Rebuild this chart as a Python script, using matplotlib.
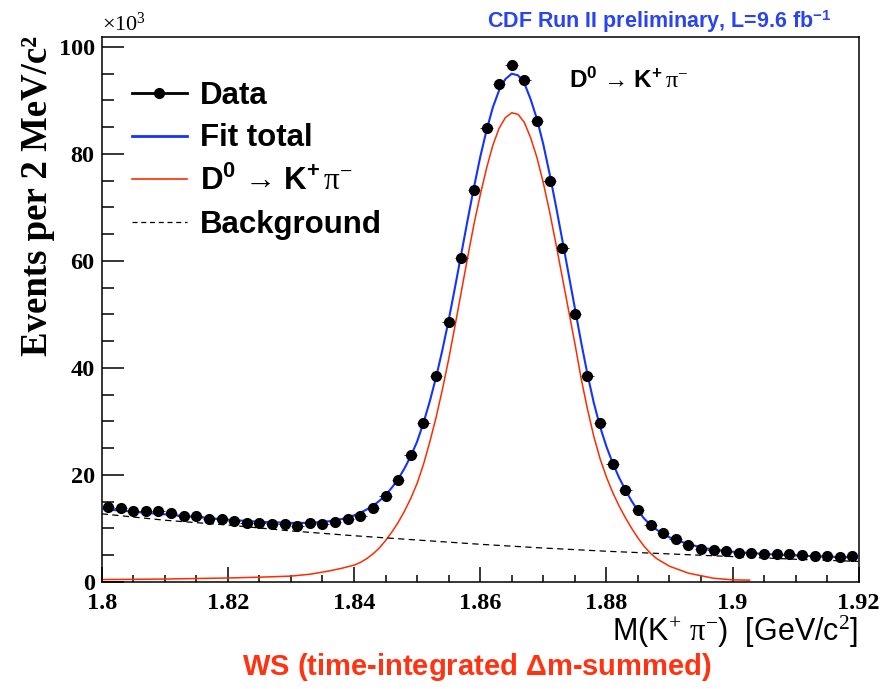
import matplotlib
matplotlib.use("Agg")
import matplotlib.pyplot as plt
from matplotlib.lines import Line2D
from matplotlib.ticker import MultipleLocator, FuncFormatter

plt.rcParams["font.family"] = ["Liberation Sans", "DejaVu Sans"]
plt.rcParams["mathtext.fontset"] = "custom"
plt.rcParams["mathtext.rm"] = "Liberation Serif"
plt.rcParams["mathtext.bf"] = "Liberation Sans:bold"
plt.rcParams["mathtext.sf"] = "Liberation Sans"
plt.rcParams["mathtext.it"] = "Liberation Serif:italic"

# data: bin centres [GeV/c^2], counts in units of 10^3 per 2 MeV/c^2
mass = [1.801, 1.803, 1.805, 1.807, 1.809, 1.811, 1.813, 1.815, 1.817, 1.819,
        1.821, 1.823, 1.825, 1.827, 1.829, 1.831, 1.833, 1.835, 1.837, 1.839,
        1.841, 1.843, 1.845, 1.847, 1.849, 1.851, 1.853, 1.855, 1.857, 1.859,
        1.861, 1.863, 1.865, 1.867, 1.869, 1.871, 1.873, 1.875, 1.877, 1.879,
        1.881, 1.883, 1.885, 1.887, 1.889, 1.891, 1.893, 1.895, 1.897, 1.899,
        1.901, 1.903, 1.905, 1.907, 1.909, 1.911, 1.913, 1.915, 1.917, 1.919]
events = [14.0, 13.8, 13.2, 13.3, 13.2, 12.8, 12.3, 12.2, 11.7, 11.7,
          11.4, 11.0, 11.0, 10.8, 10.8, 10.5, 10.9, 10.8, 11.2, 11.7,
          12.3, 13.8, 16.1, 19.1, 23.7, 29.7, 38.5, 48.5, 60.6, 73.2,
          84.9, 93.0, 96.6, 93.8, 86.1, 75.0, 62.5, 50.0, 38.4, 29.6,
          22.1, 17.1, 13.4, 10.7, 9.2, 7.9, 6.9, 6.1, 5.9, 5.7,
          5.4, 5.3, 5.1, 5.2, 5.1, 5.0, 4.9, 4.8, 4.7, 4.8]
bin_half = 0.001

# fit total (blue)
tot_x = [1.800, 1.805, 1.810, 1.815, 1.820, 1.825, 1.830, 1.833, 1.836, 1.838,
         1.840, 1.841, 1.842, 1.843, 1.844, 1.845, 1.846, 1.847, 1.848, 1.849,
         1.850, 1.851, 1.852, 1.853, 1.854, 1.855, 1.856, 1.857, 1.858, 1.859,
         1.860, 1.861, 1.862, 1.863, 1.864, 1.865, 1.866, 1.867, 1.868, 1.869,
         1.870, 1.871, 1.872, 1.873, 1.874, 1.875, 1.876, 1.877, 1.878, 1.879,
         1.880, 1.881, 1.882, 1.883, 1.884, 1.885, 1.886, 1.887, 1.888, 1.890,
         1.893, 1.896, 1.900, 1.905, 1.910, 1.915, 1.920]
tot_y = [13.6, 13.1, 12.6, 12.1, 11.6, 11.2, 11.0, 11.0, 11.3, 11.7,
         12.4, 12.9, 13.5, 14.2, 15.1, 16.2, 17.6, 19.2, 21.2, 23.5,
         26.2, 29.7, 33.7, 38.2, 43.3, 48.9, 55.0, 61.3, 67.6, 73.7,
         79.4, 84.4, 88.7, 91.9, 94.0, 95.0, 94.7, 93.2, 90.2, 86.5,
         81.8, 76.3, 70.3, 64.0, 57.6, 51.2, 44.8, 38.8, 33.5, 29.0,
         25.3, 22.2, 19.5, 17.2, 15.1, 13.3, 11.8, 10.6, 9.7, 8.3,
         7.0, 6.2, 5.6, 5.2, 4.9, 4.7, 4.5]

# signal component D0 -> K+ pi- (red)
sig_x = [1.800, 1.805, 1.810, 1.815, 1.820, 1.825, 1.830, 1.833, 1.836, 1.838,
         1.840, 1.841, 1.842, 1.843, 1.844, 1.845, 1.846, 1.847, 1.848, 1.849,
         1.850, 1.851, 1.852, 1.853, 1.854, 1.855, 1.856, 1.857, 1.858, 1.859,
         1.860, 1.861, 1.862, 1.863, 1.864, 1.865, 1.866, 1.867, 1.868, 1.869,
         1.870, 1.871, 1.872, 1.873, 1.874, 1.875, 1.876, 1.877, 1.878, 1.879,
         1.880, 1.881, 1.882, 1.883, 1.884, 1.885, 1.886, 1.887, 1.888, 1.890,
         1.893, 1.897, 1.900, 1.9027]
sig_y = [0.4, 0.45, 0.5, 0.6, 0.7, 0.85, 1.05, 1.4, 2.0, 2.5,
         3.1, 3.6, 4.3, 5.2, 6.3, 7.7, 9.3, 11.1, 13.2, 15.6,
         18.4, 21.9, 26.1, 30.7, 35.9, 41.6, 47.8, 54.2, 60.6, 66.8,
         72.3, 77.3, 81.6, 84.8, 86.8, 87.7, 87.4, 85.9, 83.0, 79.3,
         74.6, 69.2, 63.2, 57.0, 50.8, 44.6, 38.0, 32.3, 27.2, 23.0,
         19.6, 16.7, 14.2, 12.0, 10.0, 8.2, 6.6, 5.3, 4.3, 2.9,
         1.6, 0.65, 0.35, 0.3]

# background component (dashed)
bkg_x = [1.80, 1.81, 1.82, 1.83, 1.84, 1.85, 1.86, 1.87, 1.88, 1.89, 1.90, 1.91, 1.92]
bkg_y = [12.7, 11.5, 10.6, 9.5, 8.6, 7.8, 7.0, 6.3, 5.7, 5.2, 4.7, 4.2, 3.8]

decay = r"$\mathbf{D^{0}}\,\rightarrow\,\mathbf{K^{+}}\,\mathrm{\pi^{-}}$"

fig = plt.figure(figsize=(8.85, 6.89), dpi=100)
ax = fig.add_axes([0.1149, 0.1557, 0.8554, 0.7901])

ax.plot(sig_x, sig_y, color="#ff2a00", lw=1.1, zorder=2)
ax.plot(bkg_x, bkg_y, color="black", lw=0.9, linestyle=(0, (5, 3.5)), zorder=2)
ax.plot(tot_x, tot_y, color="#1433ff", lw=1.5, zorder=3)
ax.errorbar(mass, events, xerr=bin_half, fmt="o", color="black", ms=7,
            ecolor="#333355", elinewidth=0.8, capsize=0, zorder=4)

ax.set_xlim(1.8, 1.92)
ax.set_ylim(0, 101.8)
ax.xaxis.set_major_locator(MultipleLocator(0.02))
ax.xaxis.set_minor_locator(MultipleLocator(0.005))
ax.yaxis.set_major_locator(MultipleLocator(20))
ax.yaxis.set_minor_locator(MultipleLocator(5))
ax.xaxis.set_major_formatter(FuncFormatter(lambda v, p: f"{v:g}"))
ax.tick_params(which="both", direction="in", top=False, right=False, width=1.1)
ax.tick_params(axis="y", which="major", length=15.5, pad=5, labelsize=17.5)
ax.tick_params(axis="y", which="minor", length=8.5)
ax.tick_params(axis="x", which="major", length=10.5, pad=8, labelsize=17.5)
ax.tick_params(axis="x", which="minor", length=5)
for t in ax.get_xticklabels() + ax.get_yticklabels():
    t.set_fontfamily("Liberation Serif")
    t.set_fontweight("bold")
for s in ax.spines.values():
    s.set_linewidth(1.1)

handles = [
    Line2D([], [], color="black", lw=2, marker="o", ms=7),
    Line2D([], [], color="#1433ff", lw=2),
    Line2D([], [], color="#ff2a00", lw=1.2),
    Line2D([], [], color="black", lw=0.9, linestyle=(0, (4, 3))),
]
labels = ["Data", "Fit total", decay, "Background"]
leg = ax.legend(handles, labels, loc="upper left", bbox_to_anchor=(132 / 885, 1 - 81 / 689),
                bbox_transform=fig.transFigure, frameon=False, borderpad=0, borderaxespad=0,
                handlelength=1.75, handletextpad=0.42, labelspacing=0.4,
                prop={"weight": "bold", "size": 22.5})

ax.text(569 / 885, 1 - 80 / 689, decay, transform=fig.transFigure, fontsize=17.5,
        ha="left", va="center")

fig.text(38 / 885, 1 - 36 / 689, "Events per 2 MeV/c²", rotation=90, ha="center", va="top",
         family="Liberation Serif", weight="bold", fontsize=26.5)
fig.text(102 / 885, 1 - 36 / 689, r"$\mathrm{\times 10^{3}}$", ha="left", va="bottom", fontsize=16)
fig.text(832 / 885, 1 - 22 / 689, r"CDF Run II preliminary, L=9.6 fb$^{\mathbf{-1}}$",
         ha="right", va="center", color="#2a44f0", weight="bold", fontsize=15.5)
fig.text(858 / 885, 1 - 632 / 689, r"M(K$^{+}$ $\mathrm{\pi^{-}}$)  [GeV/c$^{2}$]",
         ha="right", va="center", fontsize=22)
fig.text(477 / 885, 1 - 667 / 689, r"WS (time-integrated $\mathbf{\Delta}$m-summed)",
         ha="center", va="center", color="#ff3311", weight="bold", fontsize=21)

fig.savefig("out.png", dpi=100)
